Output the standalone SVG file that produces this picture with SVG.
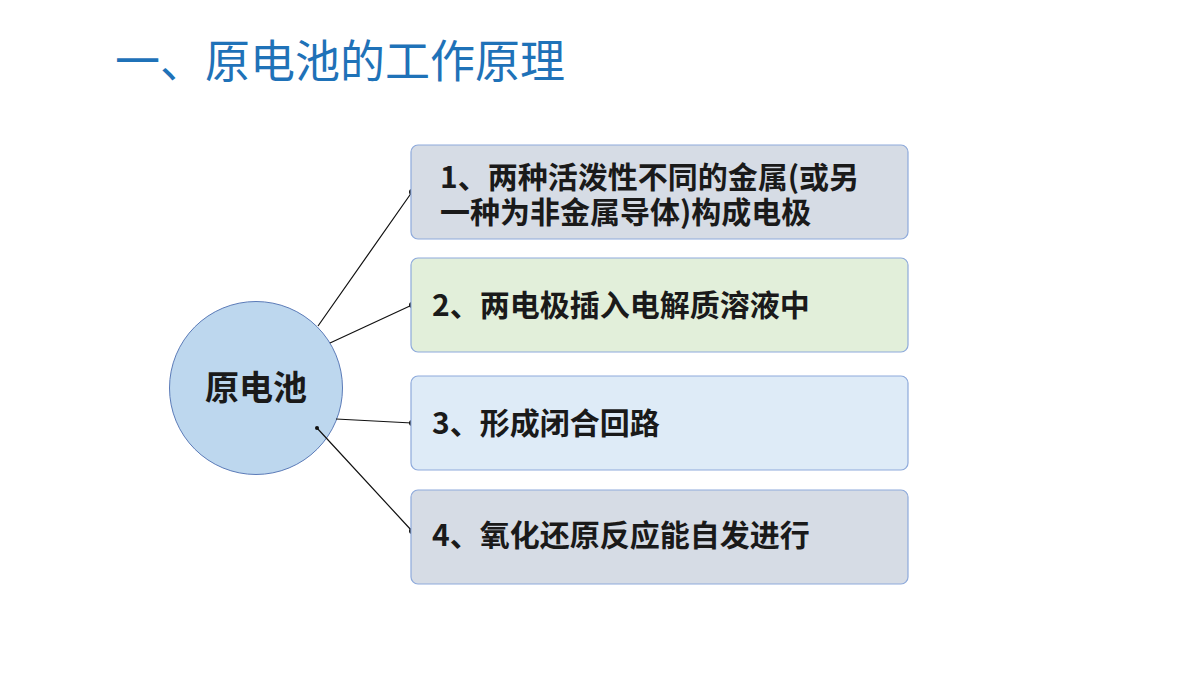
<svg xmlns="http://www.w3.org/2000/svg" width="1200" height="675" viewBox="0 0 1200 675">
<style>
.t{font-family:"Noto Sans CJK SC","Noto Sans",sans-serif;font-weight:bold;font-size:30px;fill:#1a1a1a}
.b{stroke:#8eaadb;stroke-width:1.2}
.c{stroke:#111;stroke-width:1.2;fill:none}
</style>
<rect width="1200" height="675" fill="#fff"/>
<text x="115" y="78" font-family="Noto Sans CJK SC,Noto Sans,sans-serif" font-size="45" fill="#1f72b8">一、原电池的工作原理</text>
<g id="center"><circle cx="256" cy="388" r="86.5" fill="#bdd7ee" stroke="#5b7bb8" stroke-width="1"/>
<text class="t" x="256" y="400" text-anchor="middle" style="font-size:34px">原电池</text></g>
<g id="connectors">
<path class="c" d="M318 326L412 192M330 343L412 305M336 419L412 423M317 428L412 531"/>
<circle cx="412" cy="192" r="3" fill="#111"/><circle cx="412" cy="305" r="3" fill="#111"/>
<circle cx="412" cy="423" r="3" fill="#111"/><circle cx="412" cy="531" r="3" fill="#111"/>
<circle cx="317" cy="428" r="2" fill="#111"/>
</g>
<g id="n1"><rect class="b" x="411" y="145" width="497" height="94" rx="7" fill="#d6dce5"/>
<text class="t" x="440" y="188">1、两种活泼性不同的金属(或另</text>
<text class="t" x="440" y="223">一种为非金属导体)构成电极</text></g>
<g id="n2"><rect class="b" x="411" y="258" width="497" height="94" rx="7" fill="#e2efda"/>
<text class="t" x="432" y="316">2、两电极插入电解质溶液中</text></g>
<g id="n3"><rect class="b" x="411" y="376" width="497" height="94" rx="7" fill="#deebf7"/>
<text class="t" x="432" y="434">3、形成闭合回路</text></g>
<g id="n4"><rect class="b" x="411" y="490" width="497" height="94" rx="7" fill="#d6dce5"/>
<text class="t" x="432" y="546">4、氧化还原反应能自发进行</text></g>
</svg>
